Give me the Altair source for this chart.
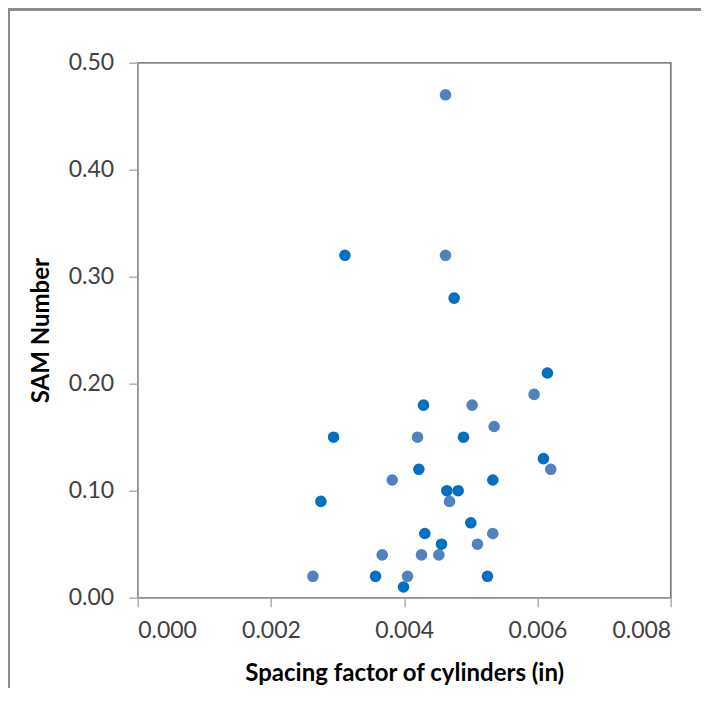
import altair as alt
import pandas as pd

# Series 1 (dark blue)
dark_x = [0.00311, 0.00475, 0.00615, 0.00429, 0.00294, 0.00489, 0.00609, 0.00422,
          0.00533, 0.00464, 0.00481, 0.00275, 0.00500, 0.00431, 0.00456, 0.00357,
          0.00525, 0.00399]
dark_y = [0.32, 0.28, 0.21, 0.18, 0.15, 0.15, 0.13, 0.12,
          0.11, 0.10, 0.10, 0.09, 0.07, 0.06, 0.05, 0.02,
          0.02, 0.01]

# Series 2 (steel blue)
light_x = [0.00462, 0.00462, 0.00595, 0.00502, 0.00535, 0.00420, 0.00620, 0.00382,
           0.00468, 0.00533, 0.00510, 0.00367, 0.00426, 0.00452, 0.00263, 0.00405]
light_y = [0.47, 0.32, 0.19, 0.18, 0.16, 0.15, 0.12, 0.11,
           0.09, 0.06, 0.05, 0.04, 0.04, 0.04, 0.02, 0.02]

x_ticks = [0.000, 0.002, 0.004, 0.006, 0.008]
y_ticks = [0.0, 0.1, 0.2, 0.3, 0.4, 0.5]

df = pd.concat([
    pd.DataFrame({"x": light_x, "y": light_y, "s": "B", "o": 0}),
    pd.DataFrame({"x": dark_x, "y": dark_y, "s": "A", "o": 1}),
])

FONT = "Lato"

points = alt.Chart(df).mark_circle(size=135, opacity=1).encode(
    x=alt.X("x:Q",
            scale=alt.Scale(domain=[0, 0.008], nice=False, zero=False),
            axis=alt.Axis(values=x_ticks, format=".3f", grid=False,
                          title="Spacing factor of cylinders (in)",
                          titleBaseline="middle", titleY=76,
                          labelPadding=13, tickSize=9)),
    y=alt.Y("y:Q",
            scale=alt.Scale(domain=[0, 0.5], nice=False),
            axis=alt.Axis(values=y_ticks, format=".2f", grid=False,
                          title="SAM Number",
                          titleBaseline="middle", titleX=-95.7, titleY=267.5,
                          labelPadding=15, tickSize=9)),
    color=alt.Color("s:N", scale=alt.Scale(domain=["A", "B"], range=["#0070C0", "#5181BE"]),
                    legend=None),
    order=alt.Order("o:Q"),
)

left_border = alt.Chart(df).mark_rule(color="#8C8C8C", strokeWidth=2).encode(
    x=alt.value(-129), y=alt.value(-55), y2=alt.value(700)
)
top_border = alt.Chart(df).mark_rule(color="#8C8C8C", strokeWidth=2).encode(
    x=alt.value(-130), x2=alt.value(700), y=alt.value(-53.5)
)

chart = alt.layer(points, left_border, top_border).properties(
    width=533,
    height=535,
    autosize=alt.AutoSizeParams(type="none"),
    padding={"left": 129.7, "top": 54.7, "right": 30, "bottom": 90},
    background="white",
).configure_view(
    stroke="#595959", strokeWidth=1.3
).configure_axis(
    labelFont=FONT, labelFontSize=23, labelColor="#404040",
    titleFont=FONT, titleFontSize=24, titleFontWeight="bold", titleColor="#000000",
    domainColor="#A6A6A6", domainWidth=1.3, tickColor="#A6A6A6", tickWidth=1.3,
)

chart.save("out.html", embed_options={"renderer": "svg", "actions": False})
